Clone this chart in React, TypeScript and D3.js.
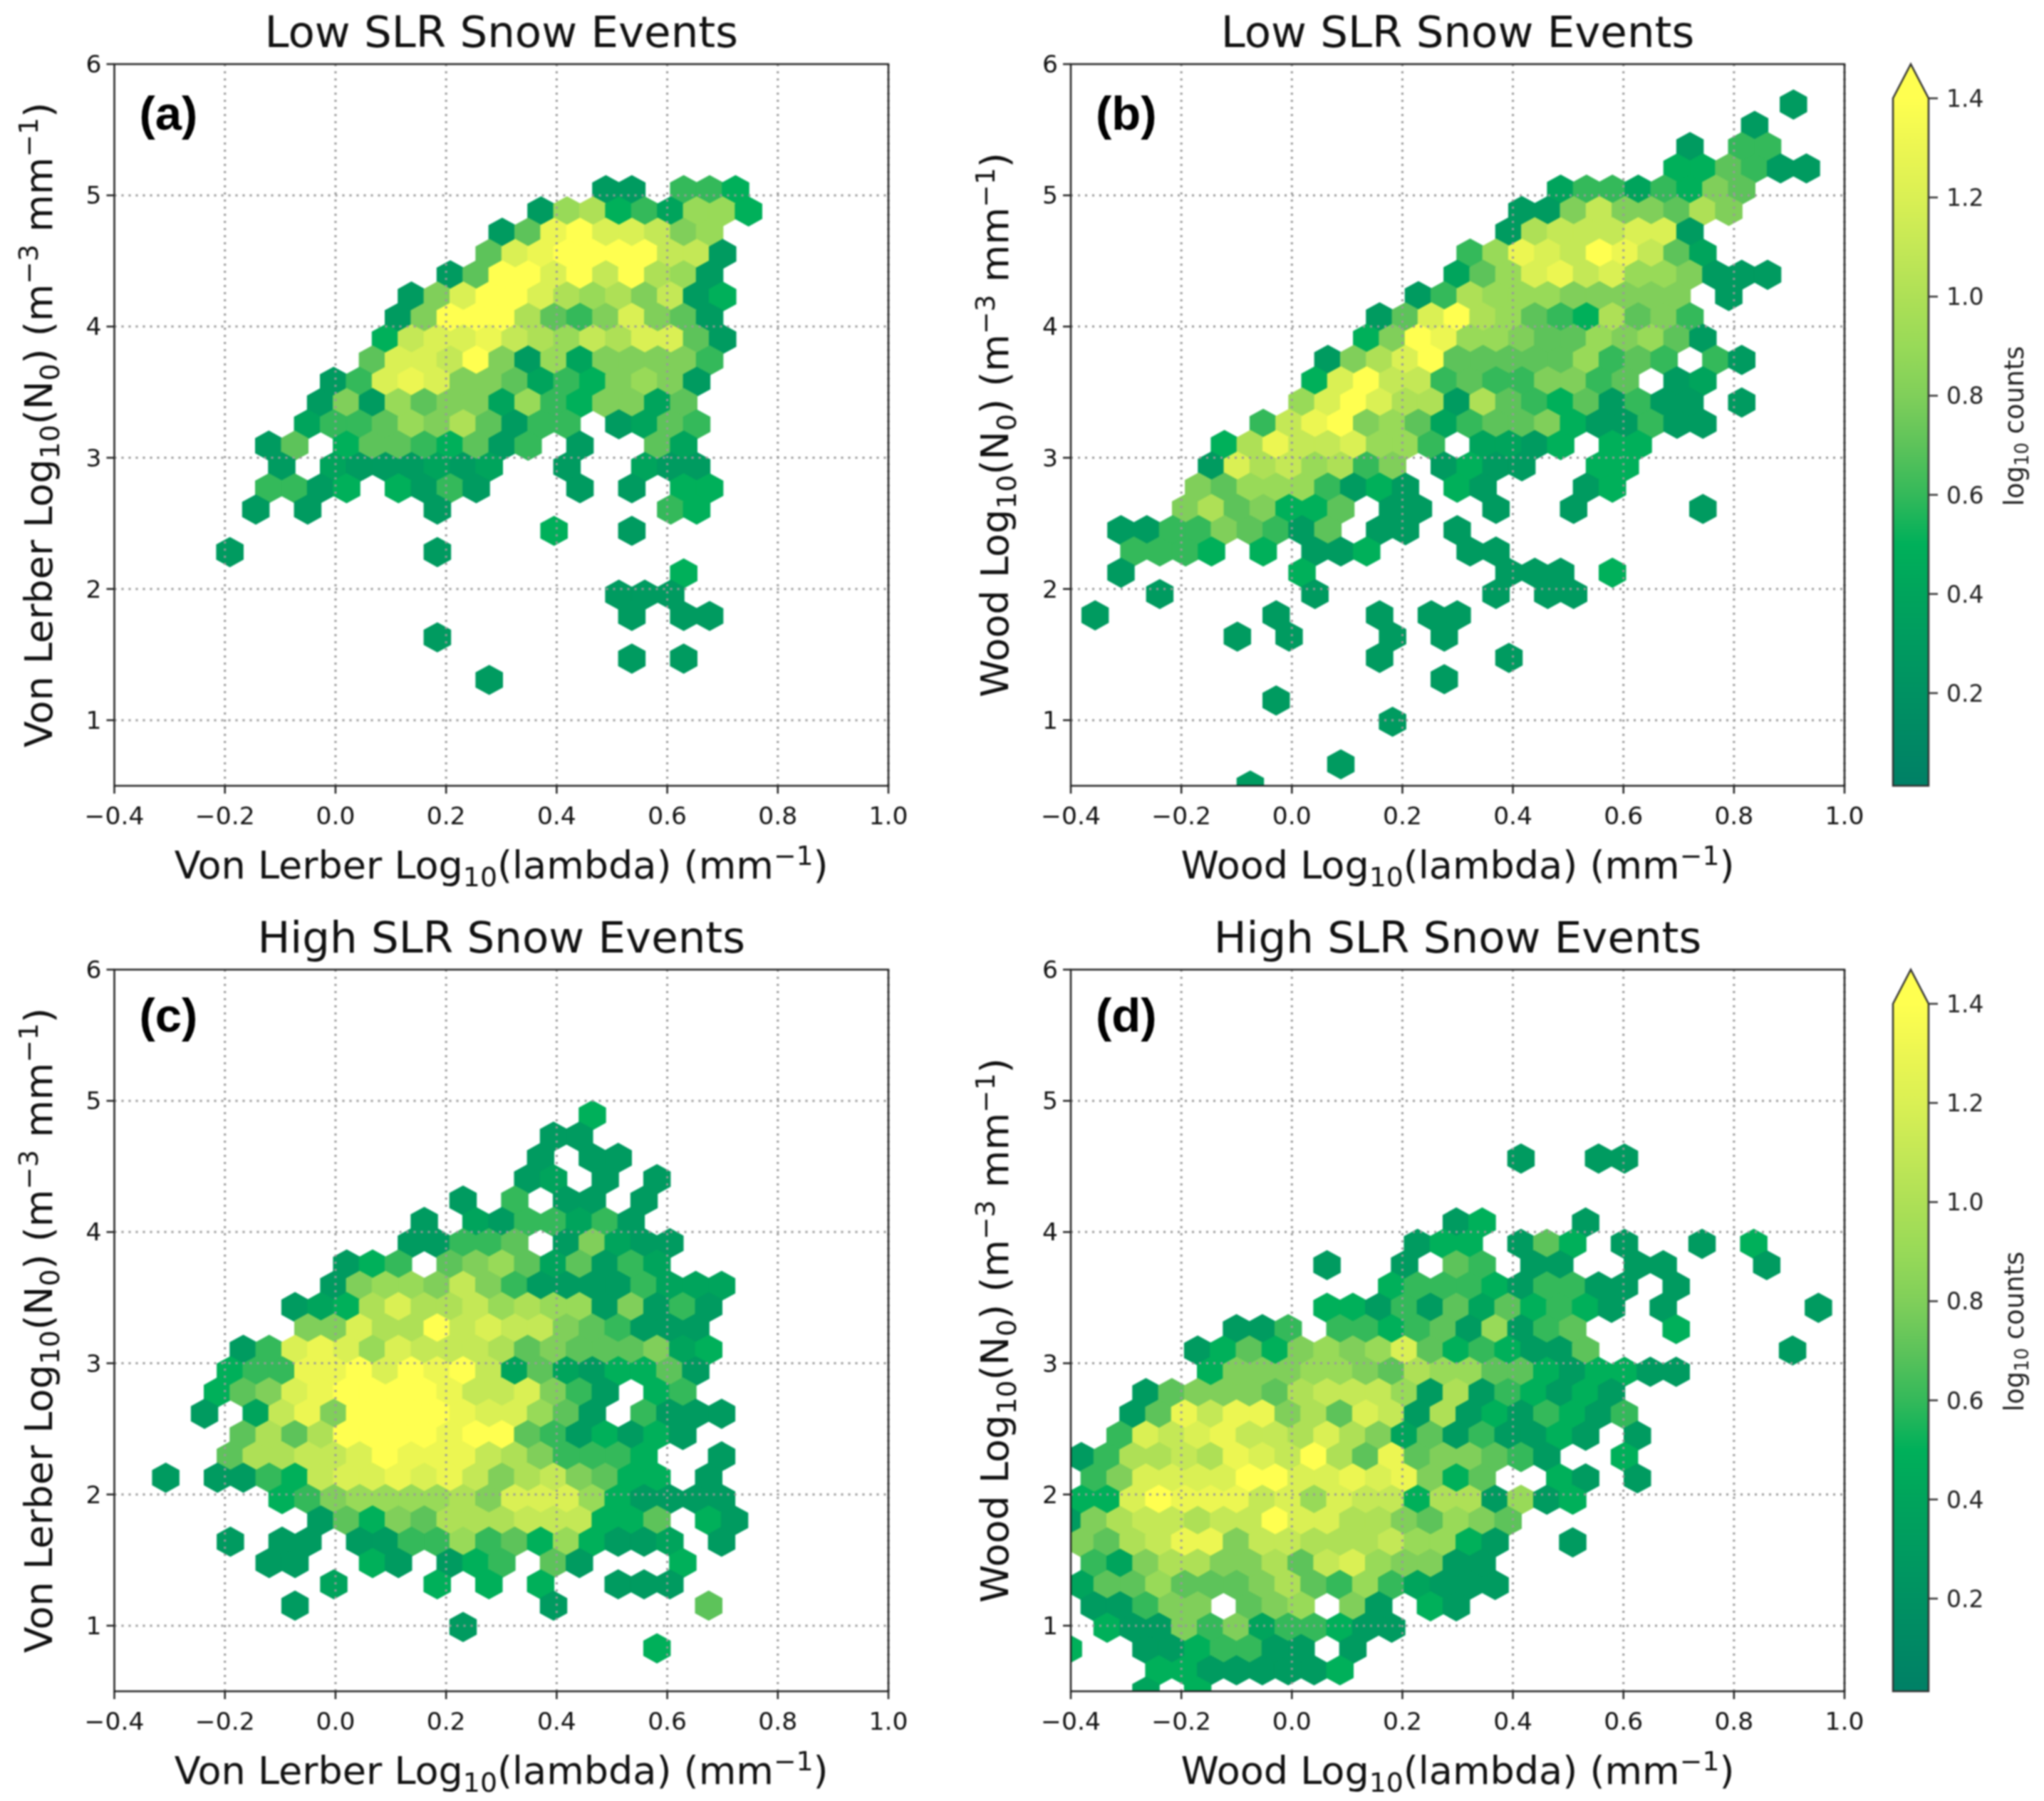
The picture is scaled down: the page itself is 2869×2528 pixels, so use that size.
import React from "react";
import * as d3 from "d3";

type Row = [number, string];

// each row: [first column, one character per hexagon]; "." = empty bin; characters are levels of log10(counts)
const rowsA: Row[] = [
  [14, "33.665"], [12, "39a564995"], [10, "37deccb89"], [10, "7cdeeeebb3"], [8, "37eecebea93"],
  [7, "38ceeca9a8b35"], [6, "38eeea768c873"], [6, "5bccdba9bacc73"], [5, "7ccbe839488886"],
  [4, "36cdc8874658983"], [3, "383978849658847"], [3, "466798a7366.3476"], [1, "37.57765736.3..74"],
  [2, "3.4333434..3..433"], [1, "6635.5363...3.3.55"], [1, "3.3....3........65"], [12, "5..3"],
  [0, "3.......3"], [17, "5"], [15, "333"], [15, "3.33"], [8, "3"], [15, "3.3"], [10, "3"],
];
const rowsB: Row[] = [
  [27, "3"], [25, "3"], [23, "3.66"], [22, "557633"], [18, "46646587"], [16, "338b887a8"], [16, "3abbbcc3"],
  [14, "69dcbedb74"], [14, "479cdbc998333"], [12, "36a99988888.3"], [11, "37cea9765a786"],
  [10, "58ed9987798973"], [9, "38ace777779676.63"], [8, "5cebb67668867.34"], [8, "9cecaa3a76573633.3"],
  [6, "6bde89746778533633"], [5, "5adbbc996.4435.55"], [4, "3cab9a68.3533..55"], [4, "879996353.53...35"],
  [3, "8a78557.33..3..3....3"], [1, "336687637.33.3"], [1, "6665.5.335...33"], [1, "3......5.......333.5"],
  [2, "3.....3......3.33"], [0, "3......3...3.33"], [5, "3.3...3.3"], [11, "3....3"], [13, "3"], [7, "3"],
  [11, "3"], [0, ""], [9, "3"], [6, "3"],
];
const rowsC: Row[] = [
  [17, "5"], [15, "33"], [15, "3.33"], [14, "34.3.3"], [12, "3.6.33.3"], [10, "3.4366463"], [10, "33667.38433"],
  [7, "356.789747364"], [7, "38998b8633336444"], [5, "345acaab9a9938363"], [6, "88caaebcbb876333"],
  [3, "36cdc9cbbba78777845"], [3, "566ddecedeb47435573"], [2, "578cdeeeedbbc863.56"],
  [2, "3.4bd8eeeedcc973.6333"], [3, "7a7aeeeedee7635353"], [3, "7aabbcedddba86665..3"],
  [0, "3.3365bccdcdb8ab8755.3"], [5, "5689999a8ccc953333"], [6, "37587aaabbb557.53"],
  [3, "3.33.3366967595334.3"], [4, "33..53.356.73...5"], [7, "4...5.5.5..333"], [5, "3.........3.....7"],
  [12, "3"], [19, "5"],
];
const rowsD: Row[] = [
  [18, "3..33"], [0, ""], [0, ""], [15, "35...3"], [14, "355.375.3..3.5"], [10, "3..3.76.33..33...3"],
  [13, "5666536633.3"], [10, "553637475653.3.....3"], [7, "336.6656739367...5"],
  [5, "35758989c7565337.......3"], [6, "58889987a9977535533"], [3, "378887abbb93a365353"],
  [3, "37dbdd8a7cb3a3536536"], [2, "6cbcdbbaca847363353.3"], [1, "36aabadcbea7d788763..5"],
  [1, "68cccceeccdcd857..53.3"], [1, "55cedddbc9cbb5aa3935"], [0, "38abbabbeccaa87987"],
  [1, "87abdd8bbaaab9953..3"], [1, "648aa88a7bc98833"], [1, "47797778a76964333"], [1, "33688.789.83.53"],
  [2, "533868466533"], [0, "5..3356633.3"], [4, "55333335"], [3, "4.5"],
];

const levelChars = "3456789abcde";
const levelValues = [0.3, 0.4, 0.5, 0.6, 0.7, 0.8, 0.9, 1.0, 1.1, 1.2, 1.3, 1.4];

const cmapValues = [0.013, 0.3, 0.4, 0.5, 0.6, 0.7, 0.8, 0.9, 1.0, 1.1, 1.2, 1.3, 1.4];
const cmapColors = ["#008066", "#009b60", "#00a45c", "#00b05a", "#34b95a", "#5dc35a", "#80cf5a", "#98da58", "#aee056", "#c4e856", "#daf054", "#ecf652", "#ffff50"];

const xTicks = [-0.4, -0.2, 0, 0.2, 0.4, 0.6, 0.8, 1.0];
const yTicks = [1, 2, 3, 4, 5, 6];
const cbTicks = [0.2, 0.4, 0.6, 0.8, 1.0, 1.2, 1.4];

const FONT = "'DejaVu Sans'";
const color = d3.scaleLinear<string>().domain(cmapValues).range(cmapColors).interpolate(d3.interpolateRgb);
const fmtX = (v: number) => d3.format(".1f")(v).replace("-", "\u2212");

const LOG10: [string, string?][] = [["Log"], ["10", "sub"]];

function Rich({ parts, size }: { parts: [string, string?][]; size: number }) {
  let prev: string | undefined;
  const out: React.ReactNode[] = [];
  parts.forEach(([t, k], i) => {
    const off = (m?: string) => (m === "sub" ? size * 0.2 : m === "sup" ? -size * 0.36 : 0);
    const dy = off(k) - off(prev);
    out.push(
      <tspan key={i} dy={dy} fontSize={k ? size * 0.7 : size}>{t}</tspan>
    );
    prev = k;
  });
  return <>{out}</>;
}

function xLabelParts(name: string): [string, string?][] {
  return [[name + " "], ...LOG10, ["(lambda) (mm"], ["\u22121", "sup"], [")"]];
}
function yLabelParts(name: string): [string, string?][] {
  return [[name + " "], ...LOG10, ["(N"], ["0", "sub"], [")  (m"], ["\u22123", "sup"], [" mm"], ["\u22121", "sup"], [")"]];
}

interface PanelProps {
  id: string; rows: Row[]; x0: number; step: number; y0: number; dy: number; shift: number; letterDy: number;
  title: string; name: string; letter: string; left: number; right: number; top: number; bottom: number;
}

function Panel(p: PanelProps) {
  const x = d3.scaleLinear().domain([-0.4, 1.0]).range([p.left, p.right]);
  const y = d3.scaleLinear().domain([0.5, 6]).range([p.bottom, p.top]);
  const hexes: { d: string; fill: string }[] = [];
  const hw = p.step / 2, v = (2 * p.dy) / 3, s = p.dy / 3;
  const line = d3.line();
  p.rows.forEach(([start, str], r) => {
    const cy = p.y0 - r * p.dy;
    str.split("").forEach((ch, i) => {
      const idx = levelChars.indexOf(ch);
      if (idx < 0) return;
      const cx = p.x0 + p.step * (start + i + ((r + p.shift) % 2 === 1 ? 0.5 : 0));
      const pts: [number, number][] = [
        [cx + hw, cy - s], [cx + hw, cy + s], [cx, cy + v], [cx - hw, cy + s], [cx - hw, cy - s], [cx, cy - v],
      ].map(([a, b]) => [x(a), y(b)] as [number, number]);
      hexes.push({ d: line(pts) + "Z", fill: color(levelValues[idx]) });
    });
  });
  const cx = (p.left + p.right) / 2, cy = (p.top + p.bottom) / 2;
  return (
    <g fontFamily={FONT} fill="#111">
      <clipPath id={p.id}><rect x={p.left} y={p.top} width={p.right - p.left} height={p.bottom - p.top} /></clipPath>
      <g clipPath={`url(#${p.id})`}>
        {hexes.map((h, i) => <path key={i} d={h.d} fill={h.fill} stroke={h.fill} strokeWidth={2.2} />)}
      </g>
      <g stroke="#999" strokeWidth={3} strokeDasharray="3 7">
        {xTicks.slice(1).map((t) => <line key={t} x1={x(t)} x2={x(t)} y1={p.top} y2={p.bottom} />)}
        {yTicks.slice(0, -1).map((t) => <line key={t} x1={p.left} x2={p.right} y1={y(t)} y2={y(t)} />)}
      </g>
      <rect x={p.left} y={p.top} width={p.right - p.left} height={p.bottom - p.top} fill="none" stroke="#222" strokeWidth={2.5} />
      <g stroke="#222" strokeWidth={2.5}>
        {xTicks.map((t) => <line key={t} x1={x(t)} x2={x(t)} y1={p.bottom} y2={p.bottom + 11} />)}
        {yTicks.map((t) => <line key={t} x1={p.left} x2={p.left - 11} y1={y(t)} y2={y(t)} />)}
      </g>
      <g fontSize={34.5} textAnchor="middle">
        {xTicks.map((t) => <text key={t} x={x(t)} y={p.bottom + 54}>{fmtX(t)}</text>)}
      </g>
      <g fontSize={34.5} textAnchor="end">
        {yTicks.map((t) => <text key={t} x={p.left - 18} y={y(t) + 12}>{t}</text>)}
      </g>
      <text x={cx} y={p.top - 24} fontSize={61} textAnchor="middle">{p.title}</text>
      <text x={cx} y={p.bottom + 130} fontSize={54} textAnchor="middle"><Rich parts={xLabelParts(p.name)} size={54} /></text>
      <text transform={`translate(${p.left - 88},${cy}) rotate(-90)`} fontSize={54} textAnchor="middle"><Rich parts={yLabelParts(p.name)} size={54} /></text>
      <text x={p.left + 35} y={p.top + p.letterDy} fontFamily="'Liberation Sans'" fontWeight="bold" fontSize={67} fill="#000">{p.letter}</text>
    </g>
  );
}

function Colorbar({ id, top, bottom }: { id: string; top: number; bottom: number }) {
  const left = 2657, right = 2707;
  const y = d3.scaleLinear().domain([0.013, 1.4]).range([bottom, top + 48]);
  const y14 = y(1.4);
  return (
    <g fontFamily={FONT} fill="#222">
      <linearGradient id={id} gradientUnits="userSpaceOnUse" x1={0} x2={0} y1={bottom} y2={y14}>
        {cmapValues.map((v, i) => (
          <stop key={v} offset={(v - 0.013) / (1.4 - 0.013)} stopColor={cmapColors[i]} />
        ))}
      </linearGradient>
      <path
        d={`M${left},${bottom}L${left},${y14}L${(left + right) / 2},${top}L${right},${y14}L${right},${bottom}Z`}
        fill={`url(#${id})`} stroke="#333" strokeWidth={2.5}
      />
      {cbTicks.map((t) => (
        <g key={t}>
          <line x1={right} x2={right + 13} y1={y(t)} y2={y(t)} stroke="#333" strokeWidth={2.5} />
          <text x={right + 25} y={y(t) + 12} fontSize={33}>{d3.format(".1f")(t)}</text>
        </g>
      ))}
      <text transform={`translate(2840,${top + 508}) rotate(-90)`} fontSize={37} textAnchor="middle">
        <Rich parts={[["log"], ["10", "sub"], [" counts"]]} size={37} />
      </text>
    </g>
  );
}

export default function App() {
  const L = [160.5, 1247], R = [1503, 2589];
  const T = [90, 1103], B = [1361, 2374];
  return (
    <svg width={2869} height={2528} viewBox="0 0 2869 2528" style={{ position: "absolute", left: 0, top: 0, background: "#fff", filter: "blur(0.8px)" }}>
      <Panel id="a" rows={rowsA} x0={-0.191} step={0.0469} y0={5.04} dy={0.1623} shift={1} letterDy={92} title="Low SLR Snow Events" name="Von Lerber" letter="(a)" left={L[0]} right={L[1]} top={T[0]} bottom={T[1]} />
      <Panel id="b" rows={rowsB} x0={-0.356} step={0.0468} y0={5.692} dy={0.1622} shift={0} letterDy={92} title="Low SLR Snow Events" name="Wood" letter="(b)" left={R[0]} right={R[1]} top={T[0]} bottom={T[1]} />
      <Panel id="c" rows={rowsC} x0={-0.3304} step={0.04676} y0={4.89} dy={0.1625} shift={0} letterDy={87} title="High SLR Snow Events" name="Von Lerber" letter="(c)" left={L[0]} right={L[1]} top={B[0]} bottom={B[1]} />
      <Panel id="d" rows={rowsD} x0={-0.4278} step={0.0468} y0={4.56} dy={0.1625} shift={0} letterDy={87} title="High SLR Snow Events" name="Wood" letter="(d)" left={R[0]} right={R[1]} top={B[0]} bottom={B[1]} />
      <Colorbar id="cb1" top={90} bottom={1103} />
      <Colorbar id="cb2" top={1361} bottom={2374} />
    </svg>
  );
}
